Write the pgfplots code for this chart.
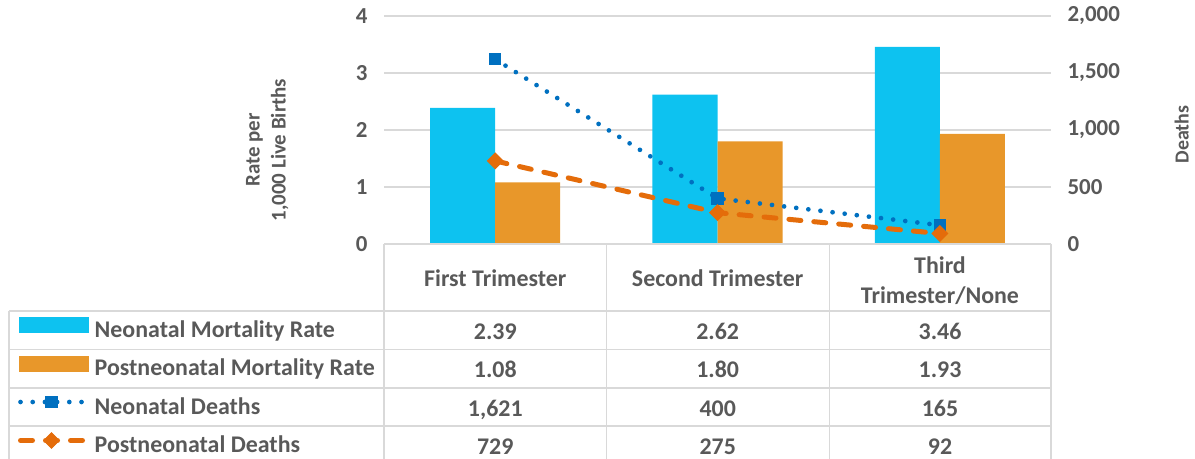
\documentclass[border=0pt]{standalone}
\usepackage{pgfplots}
\pgfplotsset{compat=1.18}
\usepackage{fontspec}
\setmainfont{Carlito}
\definecolor{cyanbar}{RGB}{13,194,240}
\definecolor{orangebar}{RGB}{232,151,42}
\definecolor{blueline}{RGB}{0,112,192}
\definecolor{orangeline}{RGB}{228,108,10}
\definecolor{textgray}{RGB}{89,89,89}
\definecolor{gridgray}{RGB}{217,217,217}
\newcommand{\tfont}{\fontsize{24}{30}\selectfont\bfseries}
\newcommand{\kfont}{\fontsize{23}{28}\selectfont\bfseries}
\newcommand{\lfont}{\fontsize{21}{26}\selectfont\bfseries}
\pgfplotsset{
  keylegend/.style={legend image code/.code={\draw[mark repeat=2, mark phase=2, ##1] plot coordinates {(1bp,5bp) (32bp,5bp) (63bp,5bp)};}},
  cyanlegend/.style={legend image code/.code={\fill[cyanbar] (0bp,-2.5bp) rectangle (69bp,12.5bp);}},
  orangelegend/.style={legend image code/.code={\fill[orangebar] (0bp,-2.5bp) rectangle (69bp,12.5bp);}},
}
\begin{document}
\begin{tikzpicture}[x=1bp,y=1bp]
\path[use as bounding box] (0,0) rectangle (1195,459);
\begin{axis}[
  at={(384bp,215bp)}, anchor=south west,
  width=667bp, height=228bp, scale only axis,
  xmin=-0.5, xmax=2.5, ymin=0, ymax=4,
  ytick={0,1,2,3,4}, xtick=\empty,
  axis line style={draw=none}, major tick length=0pt,
  ymajorgrids, grid style={gridgray, line width=1.3bp},
  /pgf/number format/assume math mode=true,
  yticklabel style={font=\kfont, text=textgray, xshift=-13bp},
  ylabel={Rate per\\1,000 Live Births},
  ylabel style={at={(axis description cs:-0.175,0.412)}, anchor=center, align=center, font=\lfont, text=textgray},
]
\addplot[fill=cyanbar, draw=none, ybar, bar width=0.2925, bar shift=-0.14625] coordinates {(0,2.39) (1,2.62) (2,3.46)};
\addplot[fill=orangebar, draw=none, ybar, bar width=0.2925, bar shift=0.14625] coordinates {(0,1.08) (1,1.80) (2,1.93)};
\end{axis}
\begin{axis}[
  at={(384bp,215bp)}, anchor=south west,
  width=667bp, height=228bp, scale only axis,
  xmin=-0.5, xmax=2.5, ymin=0, ymax=2000,
  ytick={0,500,1000,1500,2000}, xtick=\empty,
  axis x line=none, axis y line*=right,
  axis line style={draw=none}, major tick length=0pt,
  /pgf/number format/.cd, 1000 sep={,}, assume math mode=true, /pgfplots/.cd,
  yticklabel style={font=\kfont, text=textgray, xshift=13bp},
  ylabel={Deaths},
  ylabel style={at={(axis description cs:1.196,0.48)}, anchor=center, rotate=0, font=\fontsize{20}{24}\selectfont\bfseries, text=textgray},
  legend style={at={(axis description cs:-0.5487,-0.2928)}, anchor=north west, draw=none, fill=none,
    inner sep=0pt, outer sep=0pt, row sep=0pt, font=\tfont, text=textgray,
    nodes={inner sep=0pt, minimum height=38.5bp, text height=17bp, text depth=2.5bp},
    /tikz/every odd column/.append style={column sep=6bp}},
  legend cell align=left,
]
\addlegendimage{cyanlegend}
\addlegendentry{Neonatal Mortality Rate}
\addlegendimage{orangelegend}
\addlegendentry{Postneonatal Mortality Rate}
\addplot[blueline, line width=4.7bp, dash pattern=on 0pt off 12.2bp, line cap=round,
  mark=square*, mark size=5.7bp, mark options={solid, line width=1bp}, keylegend]
  coordinates {(0,1621) (1,400) (2,165)};
\addlegendentry{Neonatal Deaths}
\addplot[orangeline, line width=5bp, dash pattern=on 12bp off 13bp, line cap=round,
  mark=square*, mark size=5.5bp, mark options={solid, line width=1bp, rotate=45}, keylegend]
  coordinates {(0,729) (1,275) (2,92)};
\addlegendentry{Postneonatal Deaths}
\end{axis}
% data table grid
\begin{scope}[gridgray, line width=1.5bp]
\draw (384,215) -- (1051,215);
\foreach \y in {148,109.5,71,33} {\draw (9,\y) -- (1051,\y);}
\foreach \x in {384,606.7,829.3,1051} {\draw (\x,215) -- (\x,-10);}
\draw (9,148) -- (9,-10);
\end{scope}
\begin{scope}[every node/.style={font=\tfont, text=textgray, align=center, inner sep=0pt, anchor=base}]
\node at (495.3,172) {First Trimester};
\node at (717.7,172) {Second Trimester};
\node[anchor=center] at (940,178) {Third\\Trimester/None};
\node at (495.3,119) {2.39};
\node at (717.7,119) {2.62};
\node at (940,119) {3.46};
\node at (495.3,81) {1.08};
\node at (717.7,81) {1.80};
\node at (940,81) {1.93};
\node at (495.3,42) {1,621};
\node at (717.7,42) {400};
\node at (940,42) {165};
\node at (495.3,4) {729};
\node at (717.7,4) {275};
\node at (940,4) {92};
\end{scope}
\end{tikzpicture}
\end{document}
